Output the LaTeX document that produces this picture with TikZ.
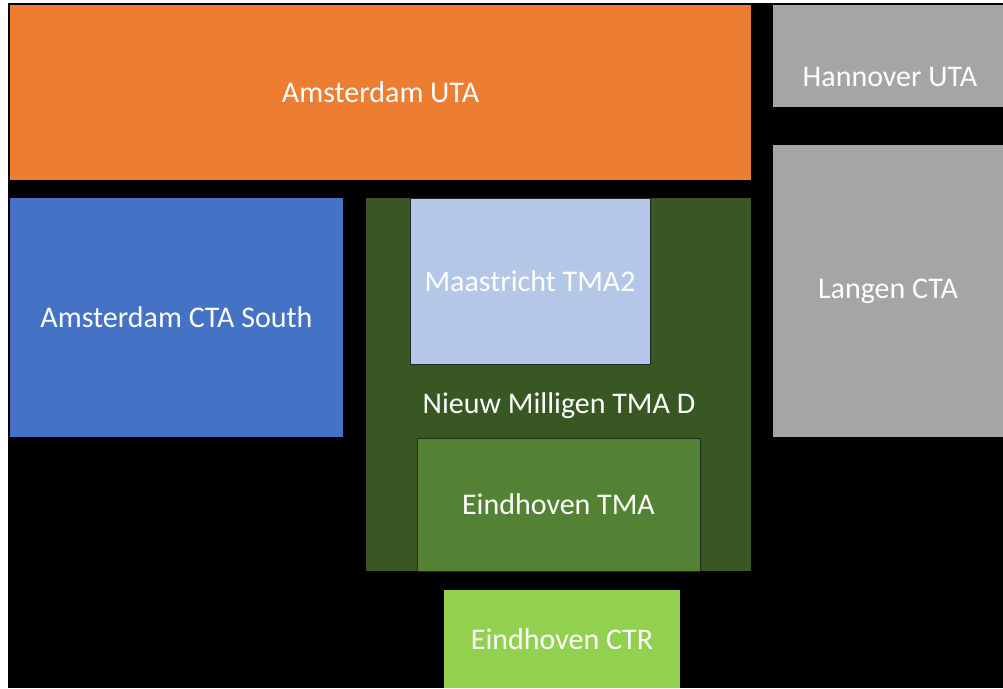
\documentclass[tikz,border=0pt]{standalone}
\usepackage{xcolor}
\usepackage{fontspec}
\setmainfont{Carlito}
\usepackage{tikz}
\usetikzlibrary{positioning}

\definecolor{utaorange}{HTML}{ED7D31}
\definecolor{ctagrey}{HTML}{A5A5A5}
\definecolor{ctablue}{HTML}{4472C4}
\definecolor{tmadark}{HTML}{385723}
\definecolor{tmalight}{HTML}{B4C7E7}
\definecolor{tmagreen}{HTML}{548235}
\definecolor{ctrgreen}{HTML}{92D050}

\begin{document}
\begin{tikzpicture}[
    x=1pt, y=-1pt,
    area/.style={rectangle, inner sep=0pt, outer sep=0pt, text=white, font=\fontsize{30}{36}\selectfont},
    edged/.style={area, draw=black!85, line width=1pt},
    lbl/.style={text=white, inner sep=0pt, font=\fontsize{30}{36}\selectfont}
]
\useasboundingbox (0,0) rectangle (1003,688);
\fill[white] (0,0) rectangle (1003,688);
\fill[black] (8,3) rectangle (1003,688);

% Upper airspace
\node[area, fill=utaorange, minimum width=741pt, minimum height=175pt] (amsuta) at (380.5,92.5) {Amsterdam UTA};
\node[area, fill=ctagrey, minimum width=230pt, minimum height=102pt] (hanuta) at (888,56) {};
\node[lbl] (hanlbl) at (890,77) {Hannover UTA};

% Control areas
\node[area, fill=ctagrey, minimum width=230pt, minimum height=292pt] (langen) at (888,291) {Langen CTA};
\node[area, fill=ctablue, minimum width=333pt, minimum height=239pt] (amscta) at (176.5,317.5) {Amsterdam CTA South};

% Terminal areas
\node[area, fill=tmadark, minimum width=385pt, minimum height=373pt] (milligen) at (558.5,384.5) {};
\node[lbl] (millbl) at (559,406) {Nieuw Milligen TMA D};
\node[edged, fill=tmalight, minimum width=240pt, minimum height=166pt] (maas) at (530,281) {Maastricht TMA2};
\node[edged, fill=tmagreen, minimum width=283pt, minimum height=133pt] (eintma) at (558.5,504.5) {Eindhoven TMA};

% Control zone
\node[area, fill=ctrgreen, minimum width=236pt, minimum height=98pt] (einctr) at (562,639) {Eindhoven CTR};

\end{tikzpicture}
\end{document}
